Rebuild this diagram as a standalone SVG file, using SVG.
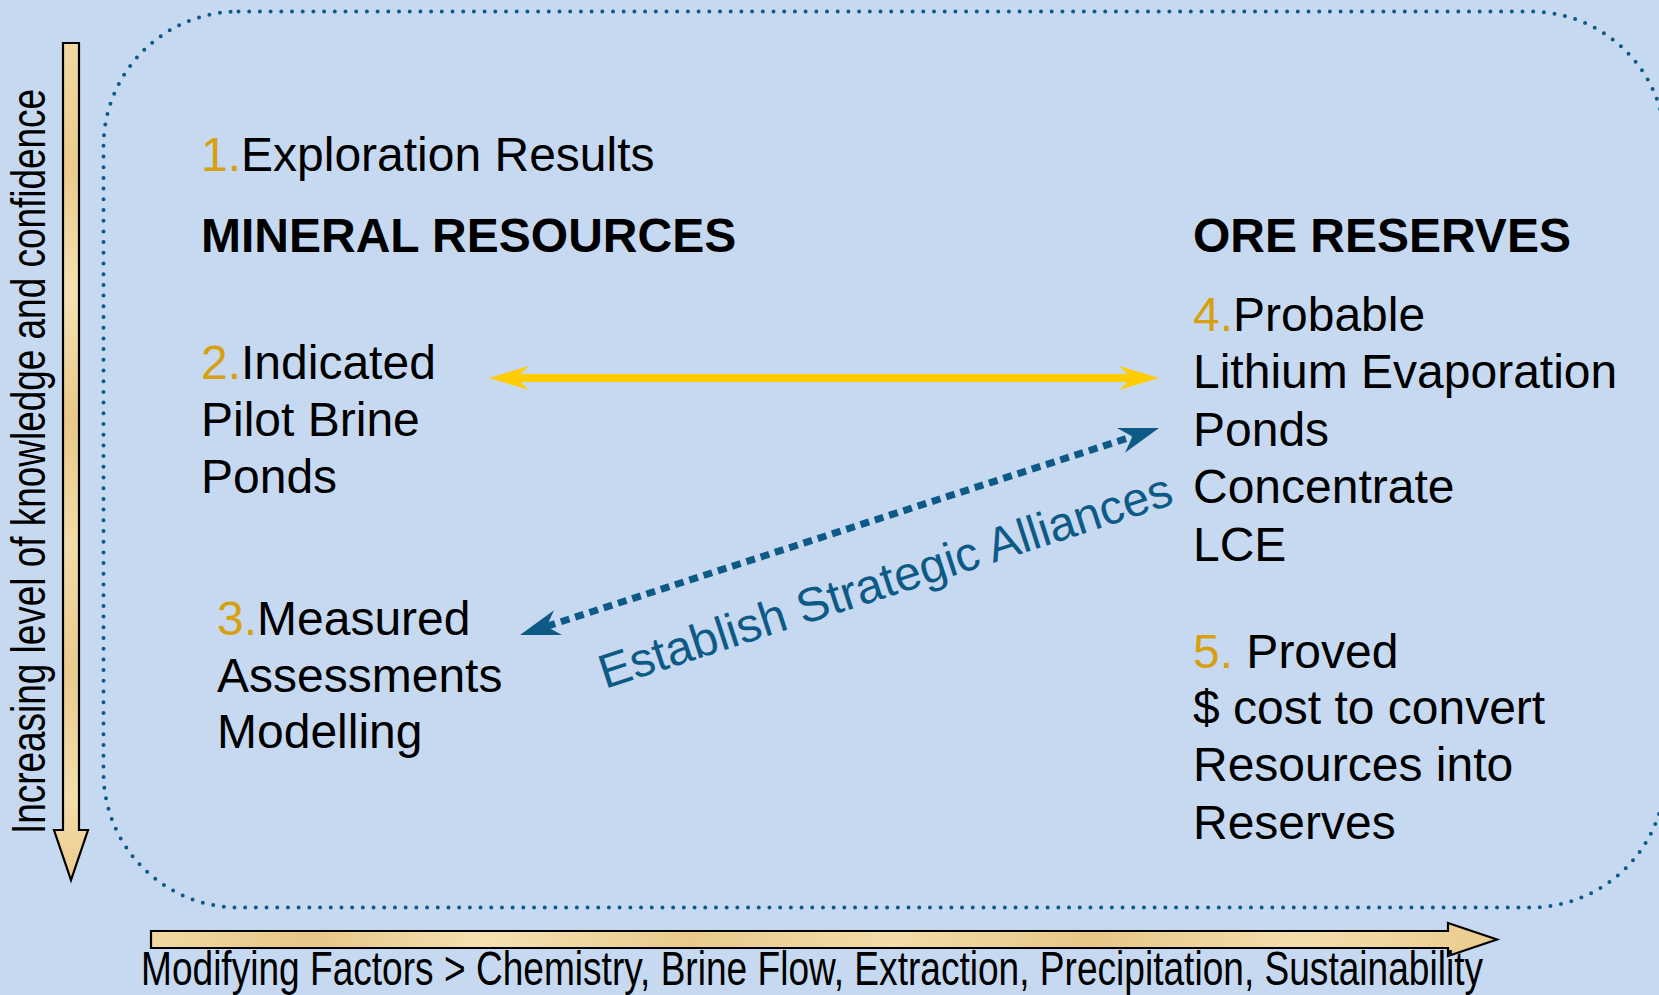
<svg xmlns="http://www.w3.org/2000/svg" width="1659" height="995" viewBox="0 0 1659 995">
  <defs>
    <style>
      .t { font-family: "Liberation Sans", Arial, sans-serif; font-size: 48px; fill: #000; }
      .b { font-weight: bold; }
      .n { fill: #D6A00E; }
      .blue { fill: #0E5A86; }
      .parch { stroke: #000; stroke-width: 2.2; stroke-linejoin: miter; }
    </style>
    <linearGradient id="parchV" x1="0" y1="0" x2="0" y2="1">
      <stop offset="0" stop-color="#F2D9A2"/>
      <stop offset="0.15" stop-color="#EBCB8C"/>
      <stop offset="0.3" stop-color="#F5E1B2"/>
      <stop offset="0.45" stop-color="#E9C888"/>
      <stop offset="0.6" stop-color="#F3DCA8"/>
      <stop offset="0.75" stop-color="#EACA8D"/>
      <stop offset="0.9" stop-color="#F4DEAC"/>
      <stop offset="1" stop-color="#EBCB8E"/>
    </linearGradient>
    <linearGradient id="parchH" x1="0" y1="0" x2="1" y2="0">
      <stop offset="0" stop-color="#F2D9A2"/>
      <stop offset="0.12" stop-color="#E8C687"/>
      <stop offset="0.25" stop-color="#F5E1B2"/>
      <stop offset="0.4" stop-color="#EACA8C"/>
      <stop offset="0.55" stop-color="#F3DCA8"/>
      <stop offset="0.7" stop-color="#E8C786"/>
      <stop offset="0.85" stop-color="#F4DEAC"/>
      <stop offset="1" stop-color="#EBCB8E"/>
    </linearGradient>
  </defs>

  <rect x="0" y="0" width="1659" height="995" fill="#C6D9F0"/>

  <g id="frame">
    <rect x="103.5" y="11.5" width="1562" height="896" rx="135" ry="135" fill="none" stroke="#0E5A86" stroke-width="4" stroke-linecap="round" stroke-dasharray="0 10.7"/>
  </g>

  <g id="axis-vertical">
    <polygon class="parch" fill="url(#parchV)" points="63,43 79,43 79,830 88,830 71,880 54,830 63,830"/>
    <text class="t" font-size="33" transform="translate(45,834) rotate(-90)" textLength="745" lengthAdjust="spacingAndGlyphs">Increasing level of knowledge and confidence</text>
  </g>

  <g id="axis-horizontal">
    <polygon class="parch" fill="url(#parchH)" points="151,931 1448,931 1448,923 1497,939.5 1448,956 1448,948 151,948"/>
    <text class="t" font-size="31" x="141" y="985" textLength="1342" lengthAdjust="spacingAndGlyphs">Modifying Factors &gt; Chemistry, Brine Flow, Extraction, Precipitation, Sustainability</text>
  </g>

  <g id="connectors">
    <g id="yellow-arrow">
      <line x1="514" y1="378" x2="1134" y2="378" stroke="#FFCC00" stroke-width="8"/>
      <polygon fill="#FFCC00" points="489,378 529,366 516,378 529,390"/>
      <polygon fill="#FFCC00" points="1159,378 1119,366 1132,378 1119,390"/>
    </g>
    <g id="alliance-arrow">
      <line x1="546.6" y1="626.4" x2="1132.4" y2="436.6" stroke="#0E5A86" stroke-width="7" stroke-dasharray="9 6"/>
      <polygon fill="#0E5A86" points="1159,428 1117,427.9 1132.4,436.6 1125,452.7"/>
      <polygon fill="#0E5A86" points="520,635 562,635.1 546.6,626.4 554,610.3"/>
    </g>
    <text class="t blue" transform="translate(605,689) rotate(-18)" textLength="600" lengthAdjust="spacingAndGlyphs">Establish Strategic Alliances</text>
  </g>

  <g id="exploration">
    <text class="t" x="201" y="171"><tspan class="n">1.</tspan>Exploration Results</text>
  </g>

  <g id="mineral-resources">
    <text class="t b" x="201" y="252">MINERAL RESOURCES</text>
  </g>

  <g id="indicated">
    <text class="t" x="201" y="379"><tspan class="n">2.</tspan>Indicated</text>
    <text class="t" x="201" y="436">Pilot Brine</text>
    <text class="t" x="201" y="493">Ponds</text>
  </g>

  <g id="measured">
    <text class="t" x="217" y="635"><tspan class="n">3.</tspan>Measured</text>
    <text class="t" x="217" y="692">Assessments</text>
    <text class="t" x="217" y="748">Modelling</text>
  </g>

  <g id="ore-reserves">
    <text class="t b" x="1193" y="252">ORE RESERVES</text>
  </g>

  <g id="probable">
    <text class="t" x="1193" y="331"><tspan class="n">4.</tspan>Probable</text>
    <text class="t" x="1193" y="388">Lithium Evaporation</text>
    <text class="t" x="1193" y="446">Ponds</text>
    <text class="t" x="1193" y="503">Concentrate</text>
    <text class="t" x="1193" y="561">LCE</text>
  </g>

  <g id="proved">
    <text class="t" x="1193" y="668"><tspan class="n">5.</tspan> Proved</text>
    <text class="t" x="1193" y="724">$ cost to convert</text>
    <text class="t" x="1193" y="781">Resources into</text>
    <text class="t" x="1193" y="839">Reserves</text>
  </g>
</svg>
